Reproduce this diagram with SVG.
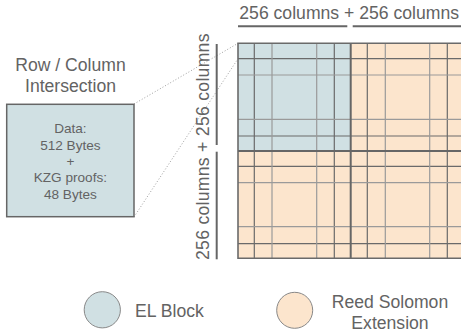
<svg xmlns="http://www.w3.org/2000/svg" width="461" height="333" viewBox="0 0 461 333">
<style>
text{font-family:"Liberation Sans",Arial,sans-serif;fill:#636363}
.lbl{font-size:17.6px}
.small{font-size:13.6px}
.dark{stroke:#6a6a6a;stroke-width:1.2;fill:none}
.light{stroke:#9a9a9a;stroke-width:1.2;fill:none}
.mid{stroke:#666;stroke-width:2;fill:none}
.rule{stroke:#666;stroke-width:2;fill:none}
.dot{stroke:#a0a0a0;stroke-width:1;stroke-dasharray:1 2;fill:none}
.blue{fill:#d0e0e3}
.orange{fill:#fce5cd}
</style>
<rect width="461" height="333" fill="#fff"/>
<g id="connectors">
<line class="dot" x1="134" y1="104" x2="238" y2="43.3"/>
<line class="dot" x1="134" y1="217" x2="238" y2="58.7"/>
</g>
<g id="top-label">
<text class="lbl" x="239.3" y="19" textLength="219.7" lengthAdjust="spacing">256 columns + 256 columns</text>
<line class="rule" x1="238" y1="26.3" x2="347.3" y2="26.3"/>
<line class="rule" x1="352.7" y1="26.3" x2="461" y2="26.3"/>
</g>
<g id="left-label">
<text class="lbl" transform="translate(209,260) rotate(-90)" textLength="226.5" lengthAdjust="spacing">256 columns + 256 columns</text>
<line class="rule" x1="216.7" y1="44" x2="216.7" y2="145"/>
<line class="rule" x1="216.7" y1="151.7" x2="216.7" y2="259.3"/>
</g>
<g id="grid">
<rect class="orange" x="238" y="43.3" width="230" height="215"/>
<rect class="blue" x="238" y="43.3" width="113" height="107.7"/>
<g class="dark">
<path d="M254.3 43.3V258.3M334.3 43.3V258.3M367.3 43.3V258.3M447.3 43.3V258.3"/>
<path d="M238 58.7H468M238 136H468M238 166.3H468M238 243.7H468"/>
</g>
<g class="light">
<path d="M272 43.3V258.3M316.7 43.3V258.3M385.3 43.3V258.3M429.7 43.3V258.3"/>
<path d="M238 75H468M238 119.3H468M238 182.7H468M238 226.7H468"/>
</g>
<path class="mid" d="M350.7 43.3V258.3M238 151H468"/>
<path d="M468 43.3H238V258.3H468" stroke="#6a6a6a" stroke-width="1.6" fill="none"/>
</g>
<g id="intersection-title">
<text class="lbl" x="70.5" y="70.7" text-anchor="middle">Row / Column</text>
<text class="lbl" x="70.5" y="91.7" text-anchor="middle">Intersection</text>
</g>
<g id="cell-box">
<rect class="blue" x="6.7" y="104.3" width="127.3" height="112.4" stroke="#666" stroke-width="1.5"/>
<text class="small" x="70.4" y="133.3" text-anchor="middle">Data:</text>
<text class="small" x="70.4" y="149.6" text-anchor="middle">512 Bytes</text>
<text class="small" x="70.4" y="165.9" text-anchor="middle">+</text>
<text class="small" x="70.4" y="182.2" text-anchor="middle">KZG proofs:</text>
<text class="small" x="70.4" y="198.5" text-anchor="middle">48 Bytes</text>
</g>
<g id="legend-el">
<circle class="blue" cx="102.3" cy="309.8" r="18.1" stroke="#888" stroke-width="1"/>
<text class="lbl" x="135" y="317.3">EL Block</text>
</g>
<g id="legend-rs">
<circle class="orange" cx="294.7" cy="310.3" r="18" stroke="#888" stroke-width="1"/>
<text class="lbl" x="390" y="308.3" text-anchor="middle">Reed Solomon</text>
<text class="lbl" x="390" y="328.7" text-anchor="middle">Extension</text>
</g>
</svg>
